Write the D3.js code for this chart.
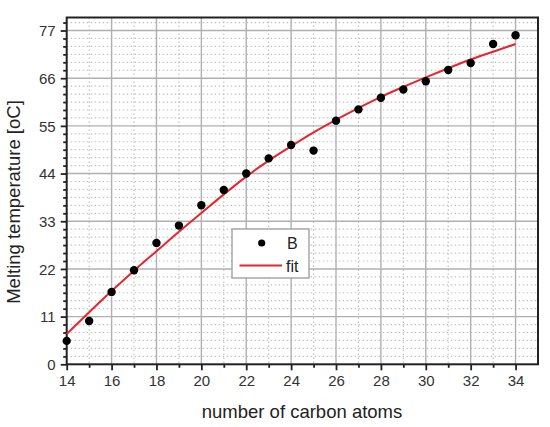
<!DOCTYPE html>
<html>
<head>
<meta charset="utf-8">
<script src="https://cdn.jsdelivr.net/npm/d3@7"></script>
<style>
  html, body { margin: 0; padding: 0; background: #fff; }
  svg { display: block; font-family: "Liberation Sans", Arial, sans-serif; }
</style>
</head>
<body>
<svg id="chart" width="550" height="427"></svg>
<script>
// ---- data ----
const carbonAtoms = [14,15,16,17,18,19,20,21,22,23,24,25,26,27,28,29,30,31,32,33,34];
const meltingTemp = [5.4,10.0,16.7,21.7,28.0,32.0,36.7,40.2,44.0,47.5,50.6,49.3,56.2,58.8,61.5,63.4,65.3,67.9,69.5,73.9,75.9];
const fitTemp     = [7.0,12.0,16.9,21.6,26.1,30.6,34.9,39.2,43.3,47.0,50.3,53.5,56.4,59.1,61.7,64.0,66.2,68.3,70.3,72.1,73.9];
const xTicks = [14,16,18,20,22,24,26,28,30,32,34];
const yTicks = [0,11,22,33,44,55,66,77];
const legendLabels = ["B", "fit"];
const xTitle = "number of carbon atoms";
const yTitle = "Melting temperature [oC]";

// ---- layout ----
const svg = d3.select("#chart");
const L = 66.7, R = 538, T = 17.5, B = 364.3;
const x = d3.scaleLinear().domain([14, 35]).range([L, R]);
const y = d3.scaleLinear().domain([0, 80]).range([B, T]);

// minor values
const xMinor = d3.range(15, 35, 2);
const yMinor = [];
for (let i = 0; i < yTicks.length; i++) {
  for (let k = 1; k <= 5; k++) {
    const v = yTicks[i] + k * 11 / 6;
    if (v < 80) yMinor.push(v);
  }
}

// grid
const grid = svg.append("g");
grid.selectAll(".xminor").data(xMinor).join("line")
  .attr("x1", d => x(d)).attr("x2", d => x(d)).attr("y1", T).attr("y2", B)
  .attr("stroke", "#c2c2c2").attr("stroke-width", 1.2).attr("stroke-dasharray", "1.5,2.5");
grid.selectAll(".yminor").data(yMinor).join("line")
  .attr("x1", L).attr("x2", R).attr("y1", d => y(d)).attr("y2", d => y(d))
  .attr("stroke", "#c2c2c2").attr("stroke-width", 1.2).attr("stroke-dasharray", "1.5,2.5");
grid.selectAll(".xmajor").data(xTicks.slice(1)).join("line")
  .attr("x1", d => x(d)).attr("x2", d => x(d)).attr("y1", T).attr("y2", B)
  .attr("stroke", "#b0b0b0").attr("stroke-width", 1.4);
grid.selectAll(".ymajor").data(yTicks.slice(1)).join("line")
  .attr("x1", L).attr("x2", R).attr("y1", d => y(d)).attr("y2", d => y(d))
  .attr("stroke", "#b0b0b0").attr("stroke-width", 1.4);

// axes
const xAxis = d3.axisBottom(x).tickValues(xTicks).tickSize(6).tickPadding(5).tickFormat(d3.format("d"));
const xAxisMinor = d3.axisBottom(x).tickValues(xMinor).tickSize(3.5).tickFormat("");
const yAxis = d3.axisLeft(y).tickValues(yTicks).tickSize(6).tickPadding(5).tickFormat(d3.format("d"));
const yAxisMinor = d3.axisLeft(y).tickValues(yMinor).tickSize(3.5).tickFormat("");

function styleAxis(g) {
  g.select(".domain").remove();
  g.selectAll("line").attr("stroke", "#222").attr("stroke-width", 1.8);
  g.selectAll("text").attr("fill", "#333").style("font-size", "15px");
}
svg.append("g").attr("transform", `translate(0,${B})`).call(xAxisMinor).call(styleAxis);
svg.append("g").attr("transform", `translate(0,${B})`).call(xAxis).call(styleAxis);
svg.append("g").attr("transform", `translate(${L},0)`).call(yAxisMinor).call(styleAxis);
svg.append("g").attr("transform", `translate(${L},0)`).call(yAxis).call(styleAxis)
  .selectAll("text").attr("dy", "0.35em");

// frame
svg.append("rect").attr("x", L).attr("y", T).attr("width", R - L).attr("height", B - T)
  .attr("fill", "none").attr("stroke", "#222").attr("stroke-width", 2);

// fit line
const line = d3.line().x((d, i) => x(carbonAtoms[i])).y(d => y(d)).curve(d3.curveMonotoneX);
svg.append("path").datum(fitTemp).attr("d", line)
  .attr("fill", "none").attr("stroke", "#e5262d").attr("stroke-width", 2);

// points
svg.append("g").selectAll("circle").data(meltingTemp).join("circle")
  .attr("cx", (d, i) => x(carbonAtoms[i])).attr("cy", d => y(d)).attr("r", 4.2)
  .attr("fill", "#000");

// legend
const lg = svg.append("g");
lg.append("rect").attr("x", 232).attr("y", 229).attr("width", 77).attr("height", 49)
  .attr("fill", "#fff").attr("stroke", "#9a9a9a").attr("stroke-width", 1.3);
lg.append("circle").attr("cx", 261.7).attr("cy", 243).attr("r", 3.6).attr("fill", "#000");
lg.append("line").attr("x1", 239.5).attr("x2", 282).attr("y1", 265.5).attr("y2", 265.5)
  .attr("stroke", "#e5262d").attr("stroke-width", 2);
lg.append("text").attr("x", 287).attr("y", 249).text(legendLabels[0])
  .attr("fill", "#222").style("font-size", "16px");
lg.append("text").attr("x", 286).attr("y", 271.5).text(legendLabels[1])
  .attr("fill", "#222").style("font-size", "16px");

// titles
svg.append("text").attr("x", 302).attr("y", 418).attr("text-anchor", "middle")
  .text(xTitle).attr("fill", "#222").style("font-size", "18.5px");
svg.append("text").attr("transform", `translate(20,202) rotate(-90)`).attr("text-anchor", "middle")
  .text(yTitle).attr("fill", "#222").style("font-size", "18.5px");
</script>
</body>
</html>
